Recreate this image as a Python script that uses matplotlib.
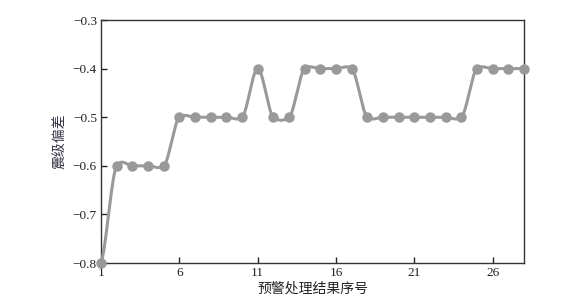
import numpy as np
import matplotlib
matplotlib.use("Agg")
import matplotlib.pyplot as plt

x_idx = list(range(1, 29))
deviation = [-0.8, -0.6, -0.6, -0.6, -0.6, -0.5, -0.5, -0.5, -0.5, -0.5,
             -0.4, -0.5, -0.5, -0.4, -0.4, -0.4, -0.4, -0.5, -0.5, -0.5,
             -0.5, -0.5, -0.5, -0.5, -0.4, -0.4, -0.4, -0.4]
xticks = [1, 6, 11, 16, 21, 26]
yticks = [-0.8, -0.7, -0.6, -0.5, -0.4, -0.3]

def cardinal(x, y, k=0.5, n=30):
    x = np.asarray(x, float); y = np.asarray(y, float)
    m = np.zeros_like(y)
    m[1:-1] = k * (y[2:] - y[:-2]) / (x[2:] - x[:-2])
    m[0] = k * (y[1] - y[0]) / (x[1] - x[0])
    m[-1] = k * (y[-1] - y[-2]) / (x[-1] - x[-2])
    xs, ys = [], []
    for i in range(len(x) - 1):
        h = x[i + 1] - x[i]
        t = np.linspace(0, 1, n, endpoint=False)
        h00 = 2*t**3 - 3*t**2 + 1
        h10 = t**3 - 2*t**2 + t
        h01 = -2*t**3 + 3*t**2
        h11 = t**3 - t**2
        xs.append(x[i] + t*h)
        ys.append(h00*y[i] + h10*h*m[i] + h01*y[i+1] + h11*h*m[i+1])
    xs.append([x[-1]]); ys.append([y[-1]])
    return np.concatenate(xs), np.concatenate(ys)

serif = ['Liberation Serif', 'DejaVu Serif']
cjk = ['Noto Sans CJK SC', 'DejaVu Sans']

fig = plt.figure(figsize=(5.68, 3.06), dpi=100)
ax = fig.add_axes([0.178, 0.1405, 0.7445, 0.7941])

sx, sy = cardinal(x_idx, deviation)
ax.plot(sx, sy, color='#999999', lw=2.2, clip_on=False, zorder=3)
ax.plot(x_idx, deviation, 'o', color='#999999', ms=6.5, clip_on=False, zorder=4)

ax.set_xlim(1, 28)
ax.set_ylim(-0.8, -0.3)
ax.set_xticks(xticks)
ax.set_xticklabels([str(v) for v in xticks], fontfamily=serif, fontsize=9.5)
ax.set_yticks(yticks)
ax.set_yticklabels([f"\u2212{abs(v):.1f}" for v in yticks], fontfamily=serif, fontsize=9.5)
ax.tick_params(direction='in', length=4, width=1, colors='#222222', pad=3)
for s in ax.spines.values():
    s.set_color('#333333')
    s.set_linewidth(1)

ax.set_xlabel('预警处理结果序号', fontfamily=cjk, fontsize=10, color='#222222', labelpad=2)
ax.set_ylabel('震级偏差', fontfamily=cjk, fontsize=10, color='#333344', labelpad=4)

fig.savefig('out.png', dpi=100)
